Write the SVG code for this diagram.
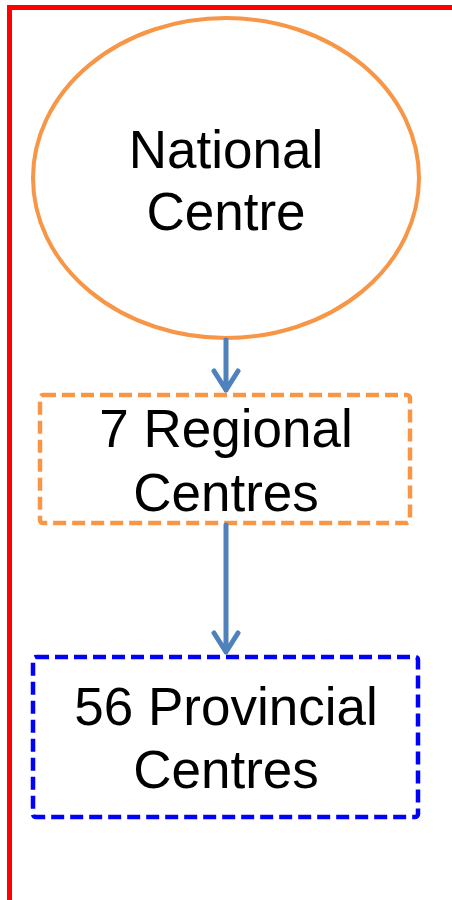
<svg xmlns="http://www.w3.org/2000/svg" width="452" height="900" viewBox="0 0 452 900">
<style>
.t{font-family:"Liberation Sans",Arial,sans-serif;font-size:53px;fill:#000;text-anchor:middle}
.c{stroke:#4F81BD;stroke-width:5;fill:none;stroke-linecap:round;stroke-linejoin:round}
.d{fill:none;stroke-width:4.5;stroke-dasharray:13 6}
</style>
<rect width="452" height="900" fill="#fff"/>
<rect x="9.5" y="7.5" width="460" height="920" fill="none" stroke="#FF0000" stroke-width="5"/>
<g id="national">
<ellipse cx="226" cy="178" rx="193" ry="160" fill="none" stroke="#F79646" stroke-width="4"/>
<text class="t" x="226" y="168">National</text>
<text class="t" x="226" y="230">Centre</text>
</g>
<g id="regional">
<rect class="d" x="40" y="395" width="370" height="128" rx="3" stroke="#F79646"/>
<text class="t" x="226" y="447">7 Regional</text>
<text class="t" x="226" y="511">Centres</text>
</g>
<g id="provincial">
<rect class="d" x="33" y="657" width="385" height="160" rx="3" stroke="#0000FF"/>
<text class="t" x="226" y="725">56 Provincial</text>
<text class="t" x="226" y="788">Centres</text>
</g>
<g id="connectors">
<path class="c" d="M226 340V390M214 371L226 390L238 371"/>
<path class="c" d="M226 525V652M214 633L226 652L238 633"/>
</g>
</svg>
